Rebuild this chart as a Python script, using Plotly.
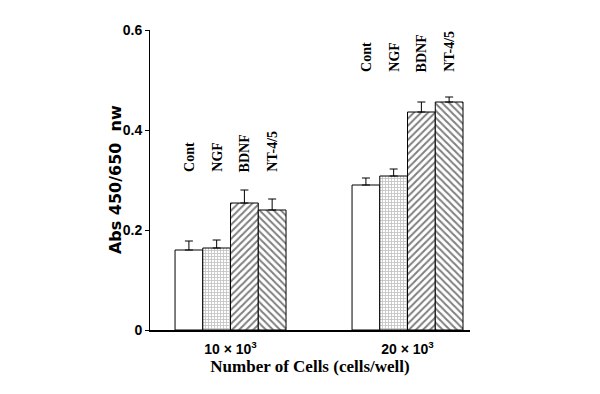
import plotly.graph_objects as go

groups = [0, 1]
group_labels = ["10 × 10<sup>3</sup>", "20 × 10<sup>3</sup>"]
treatments = ["Cont", "NGF", "BDNF", "NT-4/5"]
values = {
    "Cont": [0.160, 0.290],
    "NGF": [0.164, 0.308],
    "BDNF": [0.254, 0.436],
    "NT-4/5": [0.240, 0.456],
}
errors = {
    "Cont": [0.018, 0.014],
    "NGF": [0.016, 0.014],
    "BDNF": [0.026, 0.020],
    "NT-4/5": [0.022, 0.010],
}
label_base = [0.312, 0.512]
y_ticks = [0, 0.2, 0.4, 0.6]
y_ticktext = ["0", "0.2", "0.4", "0.6"]

patterns = {
    "Cont": dict(shape="", fgcolor="black", bgcolor="white"),
    "NGF": dict(shape="+", fgcolor="#8a8a8a", bgcolor="white", size=3, solidity=0.5),
    "BDNF": dict(shape="/", fgcolor="black", bgcolor="white", size=5, solidity=0.4),
    "NT-4/5": dict(shape="\\", fgcolor="black", bgcolor="white", size=5, solidity=0.4),
}

fig = go.Figure()
for t in treatments:
    fig.add_trace(go.Bar(
        x=groups, y=values[t], name=t,
        marker=dict(color="white", line=dict(color="black", width=1), pattern=patterns[t]),
        error_y=dict(type="data", array=errors[t], arrayminus=[0, 0], symmetric=False,
                     color="black", thickness=1, width=4),
    ))

bargap = 0.373
bw = (1 - bargap) / len(treatments)
serif = "Times New Roman, Liberation Serif, serif"
sans = "Arial, Liberation Sans, sans-serif"
for gi, g in enumerate(groups):
    for ti, t in enumerate(treatments):
        fig.add_annotation(
            x=g + (ti - (len(treatments) - 1) / 2) * bw, y=label_base[gi],
            xref="x", yref="y", text=t, textangle=-90, showarrow=False,
            xanchor="center", yanchor="bottom",
            font=dict(family=serif, size=14, color="black", weight="bold"),
        )

fig.add_annotation(
    x=-0.109, y=0.5, xref="paper", yref="paper", text="Abs 450/650  nw",
    textangle=-90, showarrow=False, xanchor="center", yanchor="middle",
    font=dict(family="DejaVu Sans, sans-serif", size=16, color="black", weight="bold"),
)

fig.update_layout(
    width=600, height=394,
    margin=dict(l=142, r=138, t=22, b=72),
    plot_bgcolor="white", paper_bgcolor="white",
    barmode="group", bargap=bargap, bargroupgap=0,
    showlegend=False,
    xaxis=dict(
        range=[-0.455, 1.353], tickvals=groups, ticktext=group_labels,
        showline=True, linecolor="black", linewidth=1.5, ticks="", showgrid=False, zeroline=False,
        ticklabelstandoff=5,
        tickfont=dict(family=sans, size=14, color="black", weight="bold"),
        title=dict(text="Number of Cells (cells/well)", standoff=2,
                   font=dict(family=serif, size=17, color="black", weight="bold")),
    ),
    yaxis=dict(
        range=[0, 0.6], tickvals=y_ticks, ticktext=y_ticktext,
        showline=True, linecolor="black", linewidth=1, ticks="outside", ticklen=4,
        tickcolor="black", showgrid=False, zeroline=False,
        tickfont=dict(family=sans, size=14, color="black", weight="bold"),
    ),
)

fig.write_html("out.html")
